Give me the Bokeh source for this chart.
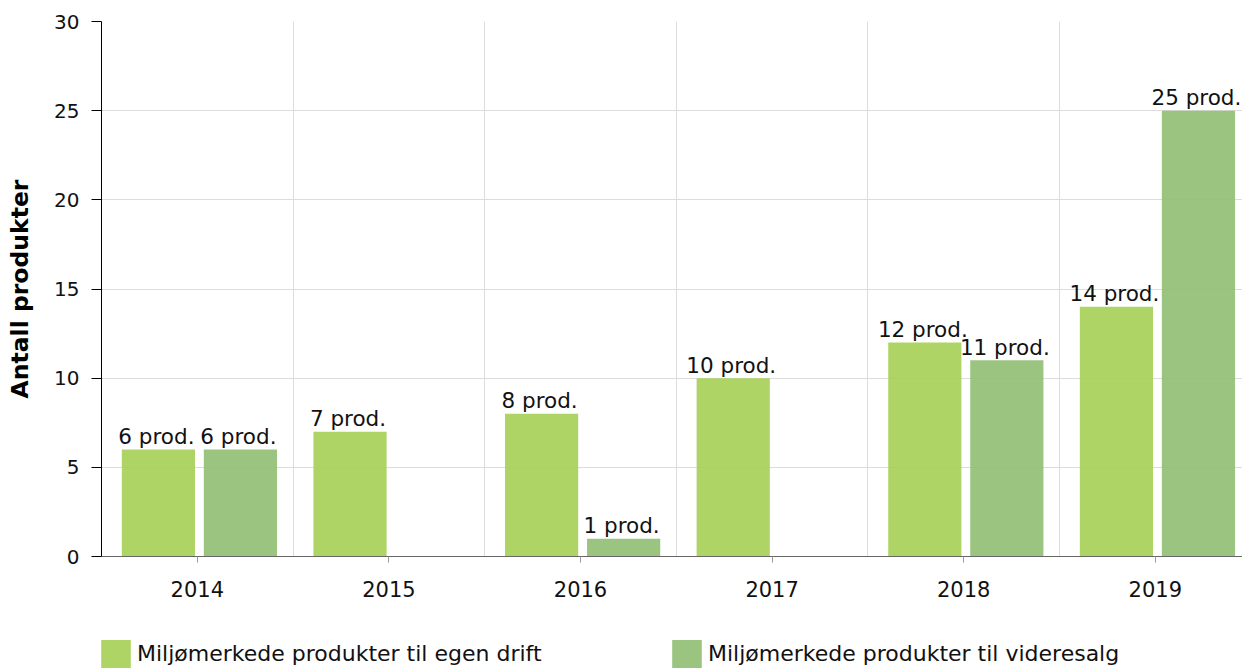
from bokeh.plotting import figure
from bokeh.layouts import column
from bokeh.models import ColumnDataSource, Range1d, FixedTicker, Legend, LegendItem
from bokeh.embed import file_html
from bokeh.resources import INLINE
from bokeh.core.properties import value

# ---- data ----
years = ["2014", "2015", "2016", "2017", "2018", "2019"]
egen_drift = [6, 7, 8, 10, 12, 14]
videresalg = [6, 0, 1, 0, 11, 25]
series_names = ["Miljømerkede produkter til egen drift",
                "Miljømerkede produkter til videresalg"]
y_ticks = [0, 5, 10, 15, 20, 25, 30]
y_label = "Antall produkter"
unit = "prod."

# ---- styles ----
FONT = "DejaVu Sans"
COL1 = "#A4CF54"
COL2 = "#90BE72"
BAR_W = 0.382
OFF1, OFF2 = -0.203, 0.225

idx = list(range(len(years)))

p = figure(width=1242, height=610, output_backend="svg", toolbar_location=None,
           x_range=Range1d(-0.5, 5.455), y_range=Range1d(0, 30),
           min_border_left=101, min_border_right=0, min_border_top=21,
           min_border_bottom=54)
p.outline_line_color = None
p.background_fill_color = "white"
p.border_fill_color = "white"

src1 = ColumnDataSource(dict(x=[i + OFF1 for i in idx], top=egen_drift,
                             label=[f"{v} {unit}" if v else "" for v in egen_drift]))
src2 = ColumnDataSource(dict(x=[i + OFF2 for i in idx], top=videresalg,
                             label=[f"{v} {unit}" if v else "" for v in videresalg]))

p.vbar(x="x", top="top", width=BAR_W, source=src1, fill_color=COL1,
       fill_alpha=0.9, line_color=None)
p.vbar(x="x", top="top", width=BAR_W, source=src2, fill_color=COL2,
       fill_alpha=0.9, line_color=None)

for s in (src1, src2):
    p.text(x="x", y="top", text="label", source=s, text_align="center",
           text_baseline="alphabetic", y_offset=-13, x_offset=-2,
           text_font=value(FONT), text_font_size=value("21.5px"),
           text_color="#111111")

# axes
p.xaxis.ticker = FixedTicker(ticks=idx)
p.xaxis.major_label_overrides = {i: y for i, y in zip(idx, years)}
p.xaxis.major_label_text_font = FONT
p.xaxis.major_label_text_font_size = "21px"
p.xaxis.major_label_text_color = "#111111"
p.xaxis.major_label_standoff = 18
p.xaxis.axis_line_color = "#666666"
p.xaxis.major_tick_line_color = "#999999"
p.xaxis.major_tick_out = 6
p.xaxis.major_tick_in = 0
p.xaxis.minor_tick_line_color = None

p.yaxis.ticker = FixedTicker(ticks=y_ticks)
p.yaxis.major_label_text_font = FONT
p.yaxis.major_label_text_font_size = "20px"
p.yaxis.major_label_text_color = "#111111"
p.yaxis.major_label_standoff = 12
p.yaxis.axis_line_color = "#000000"
p.yaxis.major_tick_line_color = "#000000"
p.yaxis.major_tick_out = 10
p.yaxis.major_tick_in = 0
p.yaxis.minor_tick_line_color = None
p.yaxis.axis_label = y_label
p.yaxis.axis_label_text_font = FONT
p.yaxis.axis_label_text_font_style = "bold"
p.yaxis.axis_label_text_font_size = "23.5px"
p.yaxis.axis_label_text_color = "#000000"
p.yaxis.axis_label_standoff = 17

p.xgrid.ticker = FixedTicker(ticks=[i + 0.5 for i in idx[:-1]])
p.xgrid.grid_line_color = "#dcdcdc"
p.ygrid.grid_line_color = "#dcdcdc"

# ---- legend strip below the chart ----
q = figure(width=1242, height=60, output_backend="svg", toolbar_location=None,
           x_axis_type=None, y_axis_type=None, x_range=Range1d(-100, -99),
           y_range=Range1d(-100, -99), min_border_left=0, min_border_right=0,
           min_border_top=0, min_border_bottom=0)
q.outline_line_color = None
q.grid.visible = False
l1 = q.vbar(x="x", top="top", width=BAR_W, source=src1,
            fill_color=COL1, fill_alpha=0.9, line_color=None, visible=False)
l2 = q.vbar(x="x", top="top", width=BAR_W, source=src2,
            fill_color=COL2, fill_alpha=0.9, line_color=None, visible=False)

for r, name, xloc in ((l1, series_names[0], -4), (l2, series_names[1], 567)):
    lg = Legend(items=[LegendItem(label=name, renderers=[r])],
                location=(xloc, -1), orientation="horizontal",
                glyph_width=37, glyph_height=35, label_standoff=3,
                padding=0, margin=0, border_line_color=None,
                background_fill_alpha=0, click_policy="none",
                label_text_font=FONT, label_text_font_size="22px",
                label_text_color="#111111")
    q.add_layout(lg, "center")

layout = column(p, q, spacing=0)
open("out.html", "w").write(file_html(layout, INLINE))
